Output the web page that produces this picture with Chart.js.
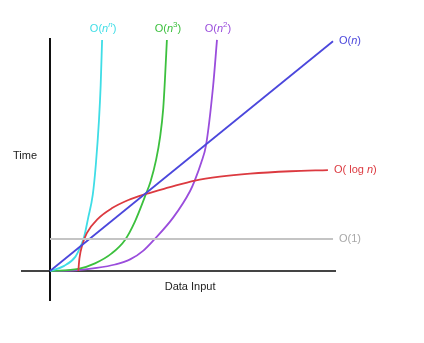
<!DOCTYPE html>
<html>
<head>
<meta charset="utf-8">
<title>Big O complexity</title>
<script src="https://cdn.jsdelivr.net/npm/chart.js@4.4.1/dist/chart.umd.min.js"></script>
<style>
  html, body { margin: 0; padding: 0; background: #fff; }
  #wrap { width: 424px; height: 343px; }
</style>
</head>
<body>
<div id="wrap"><canvas id="bigO"></canvas></div>
<script>
// values (x = data input, y = time, arbitrary units)
const constX = [0, 10];
const constY = [1.38, 1.38];

const logX = [1.0, 1.04, 1.14, 1.3, 1.71, 2.18, 2.77, 3.39, 4.2, 5.12, 6.0, 7.07, 8.5, 9.82];
const logY = [0, 0.55, 1.12, 1.63, 2.27, 2.7, 3.06, 3.32, 3.6, 3.9, 4.07, 4.2, 4.3, 4.35];

const linX = [0, 10];
const linY = [0, 9.9];

const quadX = [0, 1.0, 1.65, 2.3, 2.83, 3.3, 3.7, 4.35, 4.95, 5.12, 5.35, 5.51, 5.76, 5.9];
const quadY = [0, 0.04, 0.13, 0.28, 0.5, 0.88, 1.38, 2.3, 3.45, 3.92, 4.7, 5.4, 7.93, 9.96];

const cubeX = [0, 1.0, 1.59, 2.18, 2.65, 3.0, 3.39, 3.55, 3.75, 3.89, 4.0, 4.06, 4.13];
const cubeY = [0, 0.09, 0.33, 0.76, 1.34, 2.13, 3.32, 3.85, 4.8, 5.78, 7.0, 8.23, 9.96];

const expX = [0, 0.5, 0.9, 1.08, 1.2, 1.35, 1.51, 1.62, 1.73, 1.79, 1.84];
const expY = [0, 0.22, 0.62, 1.06, 1.45, 2.3, 3.28, 4.6, 6.5, 8.0, 9.96];

// axis ranges (the axes cross at 0,0)
const xRange = [-0.99, 10.07];
const yRange = [-1.25, 10];

// label texts: [text, style]
const labelConst = [["O(1)", ""]];
const labelLog = [["O( log ", ""], ["n", "i"], [")", ""]];
const labelLin = [["O(", ""], ["n", "i"], [")", ""]];
const labelQuad = [["O(", ""], ["n", "i"], ["2", "sup"], [")", ""]];
const labelCube = [["O(", ""], ["n", "i"], ["3", "sup"], [")", ""]];
const labelExp = [["O(", ""], ["n", "i"], ["n", "supi"], [")", ""]];

const FONT = "'Liberation Sans', Arial, Helvetica, sans-serif";

const toPoints = (xs, ys) => xs.map((x, i) => ({ x, y: ys[i] }));

function series(xs, ys, color, label, where) {
  return {
    data: toPoints(xs, ys),
    borderColor: color,
    borderWidth: 1.8,
    pointRadius: 0,
    showLine: true,
    fill: false,
    cubicInterpolationMode: "monotone",
    clip: 6,
    bigLabel: label,
    labelAt: where,
  };
}

function drawRich(ctx, parts, x, y, align) {
  const fontFor = (s) => {
    if (s === "i") return `italic 11px ${FONT}`;
    if (s === "sup") return `8px ${FONT}`;
    if (s === "supi") return `italic 8px ${FONT}`;
    return `11px ${FONT}`;
  };
  let w = 0;
  parts.forEach(([t, s]) => { ctx.font = fontFor(s); w += ctx.measureText(t).width; });
  let cx = align === "center" ? x - w / 2 : x;
  parts.forEach(([t, s]) => {
    ctx.font = fontFor(s);
    ctx.fillText(t, cx, s.startsWith("sup") ? y - 4 : y);
    cx += ctx.measureText(t).width;
  });
}

// üè∑Ô∏è curve labels + axis titles
const labelPlugin = {
  id: "bigOLabels",
  afterDraw(chart) {
    const ctx = chart.ctx;
    const { x, y } = chart.scales;
    ctx.save();
    ctx.textBaseline = "middle";
    chart.data.datasets.forEach((ds) => {
      const last = ds.data[ds.data.length - 1];
      const px = x.getPixelForValue(last.x);
      const py = y.getPixelForValue(last.y);
      ctx.fillStyle = ds.labelColor || ds.borderColor;
      if (ds.labelAt === "top") drawRich(ctx, ds.bigLabel, px + 1, py - 11, "center");
      else drawRich(ctx, ds.bigLabel, px + 6, py, "left");
    });
    ctx.fillStyle = "#222";
    ctx.font = `11px ${FONT}`;
    ctx.textAlign = "center";
    ctx.fillText("Time", chart.chartArea.left + 3, y.getPixelForValue(4.95));
    ctx.fillText("Data Input", x.getPixelForValue(4.95), y.getPixelForValue(0) + 16);
    ctx.restore();
  },
};

const gray = series(constX, constY, "#c4c4c4", labelConst, "right");
gray.labelColor = "#a8a8a8";

new Chart(document.getElementById("bigO"), {
  type: "scatter",
  data: {
    datasets: [
      gray,
      series(linX, linY, "#4b47dc", labelLin, "right"),
      series(logX, logY, "#dc3a40", labelLog, "right"),
      series(expX, expY, "#3fdde6", labelExp, "top"),
      series(cubeX, cubeY, "#3cc03e", labelCube, "top"),
      series(quadX, quadY, "#9a4ddc", labelQuad, "top"),
    ],
  },
  options: {
    responsive: true,
    maintainAspectRatio: false,
    animation: false,
    events: [],
    layout: { padding: { left: 22, right: 89, top: 39, bottom: 43 } },
    plugins: { legend: { display: false }, tooltip: { enabled: false } },
    scales: {
      x: {
        type: "linear",
        min: xRange[0],
        max: xRange[1],
        position: { y: 0 },
        ticks: { display: false },
        grid: { display: false, drawTicks: false },
        border: { display: true, color: "#444", width: 2 },
      },
      y: {
        type: "linear",
        min: yRange[0],
        max: yRange[1],
        position: { x: 0 },
        ticks: { display: false },
        grid: { display: false, drawTicks: false },
        border: { display: true, color: "#111", width: 2 },
      },
    },
  },
  plugins: [labelPlugin],
});
</script>
</body>
</html>
